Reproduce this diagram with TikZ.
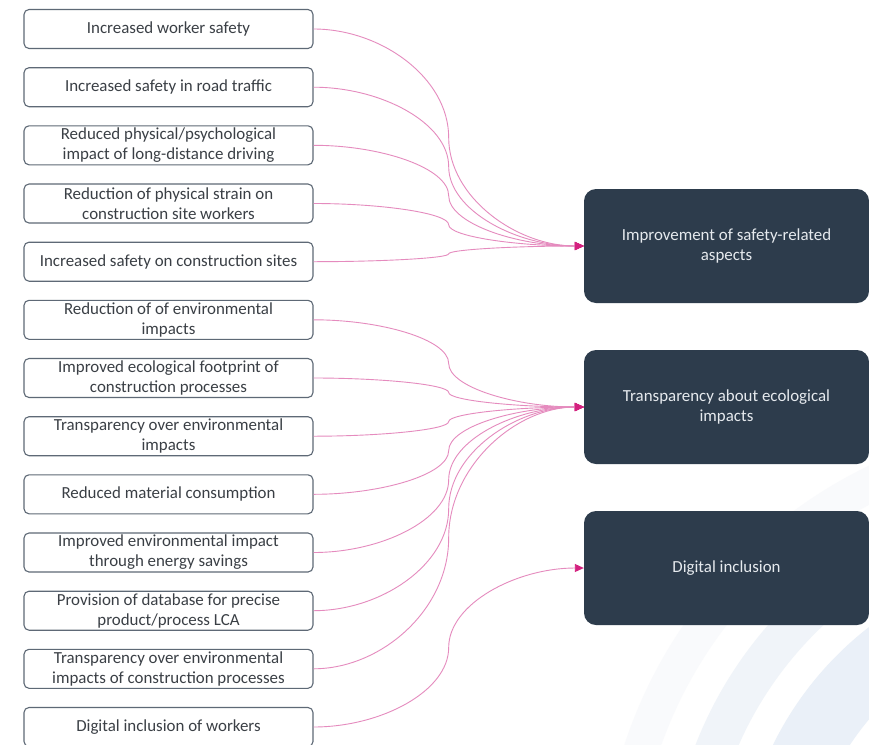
\documentclass[tikz,border=0pt]{standalone}
\usepackage{fontspec}
\setmainfont{Carlito}
\usetikzlibrary{arrows.meta,calc}
\definecolor{navy}{HTML}{2D3C4C}
\definecolor{boxline}{HTML}{5E6976}
\definecolor{txt}{HTML}{3A3F45}
\definecolor{linkc}{HTML}{E58BBE}
\definecolor{tipc}{HTML}{D4217F}
\definecolor{goaltxt}{HTML}{E6EAEE}
\definecolor{bandA}{HTML}{F9FAFC}
\definecolor{bandB}{HTML}{F0F4F9}
\definecolor{bandC}{HTML}{EAF0F8}
\definecolor{bandD}{HTML}{DFE9F6}
\newcommand\lnk[2]{%
  \coordinate (m#1) at ($(#1.east)!.5!(#2.west)$);
  \draw[link] (#1.east)
    .. controls ($(#1.east)!.5!(#1.east -| m#1)$) and ($(m#1)!.55!(m#1 |- #1.east)$) .. (m#1)
    .. controls ($(m#1)!.55!(m#1 |- #2.west)$) and ($(#2.west)!.5!(#2.west -| m#1)$) .. (#2.west);}
\begin{document}
\begin{tikzpicture}[x=1pt,y=-1pt,
  src/.style={draw=boxline, line width=1.1pt, rounded corners=5pt, minimum width=289pt, minimum height=39pt, inner sep=0pt, align=center, text=txt, font=\fontsize{16.9}{20}\selectfont},
  goal/.style={fill=navy, rounded corners=12pt, minimum width=285pt, minimum height=114pt, inner sep=0pt, align=center, text=goaltxt, font=\fontsize{16.9}{20}\selectfont},
  link/.style={draw=linkc, line width=0.9pt, -{Triangle[length=9pt,width=8pt,color=tipc]}}]
\useasboundingbox (0,0) rectangle (869,744);
\clip (0,0) rectangle (869,744);
\fill[white] (0,0) rectangle (869,744);
% background bands
\fill[bandA, even odd rule] (1074,892) circle (473pt) (1074,892) circle (438pt);
\fill[bandB, even odd rule] (1074,892) circle (406pt) (1074,892) circle (366pt);
\fill[bandC, even odd rule] (1074,892) circle (335pt) (1074,892) circle (268pt);
\fill[bandD] (1074,892) circle (252pt);
% source boxes
\node[src] (s1)  at (168.5,29)   {Increased worker safety};
\node[src] (s2)  at (168.5,87.2) {Increased safety in road traffic};
\node[src] (s3)  at (168.5,145.3) {Reduced physical/psychological\\impact of long-distance driving};
\node[src] (s4)  at (168.5,203.5) {Reduction of physical strain on\\construction site workers};
\node[src] (s5)  at (168.5,261.7) {Increased safety on construction sites};
\node[src] (s6)  at (168.5,319.8) {Reduction of of environmental\\impacts};
\node[src] (s7)  at (168.5,378) {Improved ecological footprint of\\construction processes};
\node[src] (s8)  at (168.5,436.2) {Transparency over environmental\\impacts};
\node[src] (s9)  at (168.5,494.3) {Reduced material consumption};
\node[src] (s10) at (168.5,552.5) {Improved environmental impact\\through energy savings};
\node[src] (s11) at (168.5,610.7) {Provision of database for precise\\product/process LCA};
\node[src] (s12) at (168.5,668.8) {Transparency over environmental\\impacts of construction processes};
\node[src] (s13) at (168.5,727) {Digital inclusion of workers};
% goal boxes
\node[goal] (g1) at (726.5,246) {Improvement of safety-related\\aspects};
\node[goal] (g2) at (726.5,407) {Transparency about ecological\\impacts};
\node[goal] (g3) at (726.5,568) {Digital inclusion};
% links
\lnk{s1}{g1}
\lnk{s2}{g1}
\lnk{s3}{g1}
\lnk{s4}{g1}
\lnk{s5}{g1}
\lnk{s6}{g2}
\lnk{s7}{g2}
\lnk{s8}{g2}
\lnk{s9}{g2}
\lnk{s10}{g2}
\lnk{s11}{g2}
\lnk{s12}{g2}
\lnk{s13}{g3}
\end{tikzpicture}
\end{document}
